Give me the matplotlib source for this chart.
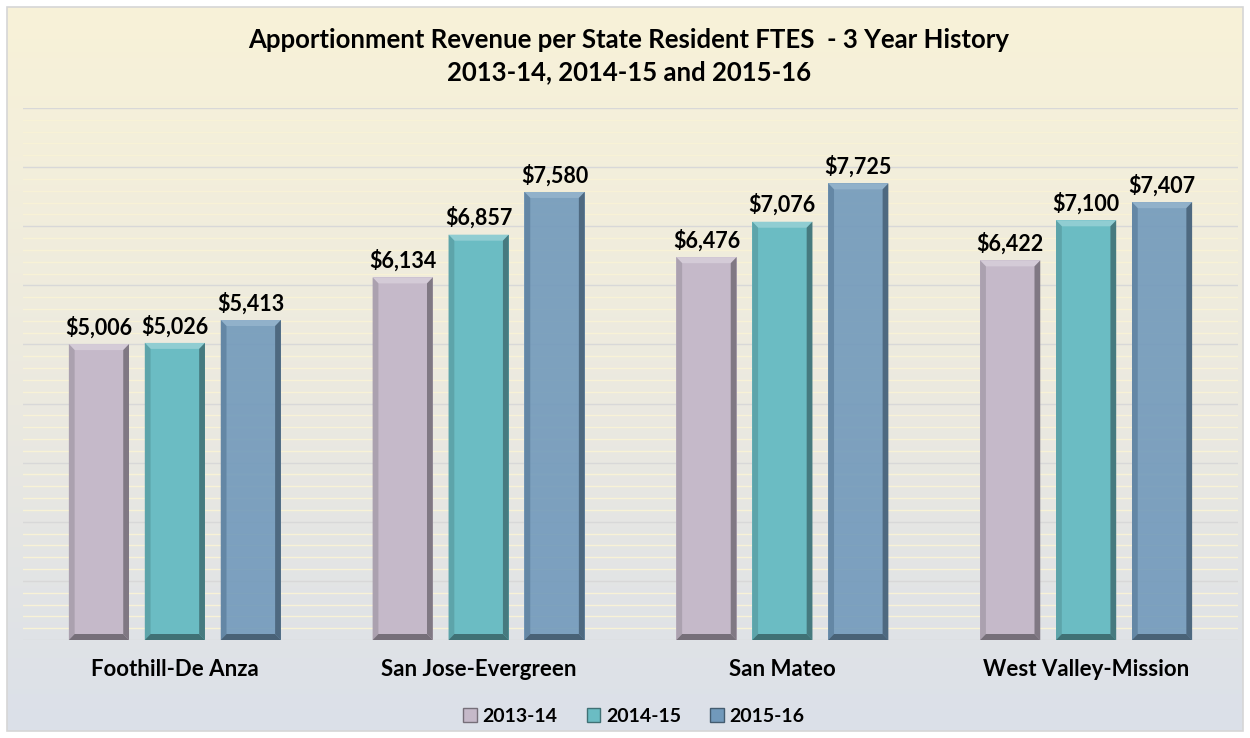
import numpy as np
import matplotlib
matplotlib.use('Agg')
import matplotlib.pyplot as plt
from matplotlib.patches import Polygon, Rectangle, Patch
from matplotlib.colors import to_rgb

plt.rcParams['font.family'] = ['Lato', 'DejaVu Sans']

categories = ['Foothill-De Anza', 'San Jose-Evergreen', 'San Mateo', 'West Valley-Mission']
years = ['2013-14', '2014-15', '2015-16']
v_1314 = [5006, 6134, 6476, 6422]
v_1415 = [5026, 6857, 7076, 7100]
v_1516 = [5413, 7580, 7725, 7407]
series = [v_1314, v_1415, v_1516]
colors = ['#c5b9c9', '#6bbcc3', '#7199bb']
alphas = [1.0, 1.0, 0.9]

W, H = 1250, 738
fig = plt.figure(figsize=(W/100, H/100), dpi=100)

# background gradient (cream -> pale blue-grey)
bg = fig.add_axes([0, 0, 1, 1], zorder=-10)
top_c = np.array(to_rgb('#f8f2d8'))
mid_c = np.array(to_rgb('#ebe9e0'))
bot_c = np.array(to_rgb('#dbe0e9'))
t = np.linspace(0, 1, 300)[:, None]
grad = np.where(t < 0.55, top_c + (mid_c - top_c) * (t / 0.55),
                mid_c + (bot_c - mid_c) * ((t - 0.55) / 0.45))
grad = np.repeat(grad[:, None, :], 2, axis=1)
bg.add_patch(Rectangle((0, 0), 1, 1, facecolor='white', zorder=-1))
bg.imshow(grad, aspect='auto', extent=[7/W, 1 - 7/W, 7/H, 1 - 7/H], origin='upper', zorder=0)
bg.add_patch(Rectangle((7/W, 7/H), 1 - 14/W, 1 - 14/H, fill=False, edgecolor='#d6d6d6', lw=1.2, zorder=1))
bg.set_xlim(0, 1); bg.set_ylim(0, 1); bg.axis('off')

ax = fig.add_axes([23/W, 1 - 640/H, (1238 - 23)/W, (640 - 108)/H])
ax.patch.set_alpha(0)
ax.set_xlim(-0.5, len(categories) - 0.5)
ax.set_ylim(0, 9000)
ax.set_yticks(np.arange(0, 9001, 1000))
ax.set_yticks(np.arange(0, 9001, 200), minor=True)
ax.grid(True, which='minor', axis='y', color='#f8f2d6', lw=1.0, zorder=0)
ax.grid(True, which='major', axis='y', color='#d8d8d8', lw=1.0, zorder=0.5)
ax.set_axisbelow(True)
for s in ax.spines.values():
    s.set_visible(False)
ax.tick_params(which='both', length=0, labelleft=False)
ax.set_xticks(range(len(categories)))
ax.set_xticklabels(categories, fontsize=16, fontweight='bold')
ax.tick_params(axis='x', pad=14)

x = np.arange(len(categories))
bw = 0.198
step = 0.25
ypx = 9000 / 532.0
bx, by = 0.019, 6 * ypx


def shade(c, f):
    c = np.array(to_rgb(c))
    return tuple(np.clip(c * f, 0, 1)) if f < 1 else tuple(c + (1 - c) * (f - 1))


for i, (vals, c, a) in enumerate(zip(series, colors, alphas)):
    bars = ax.bar(x + (i - 1) * step, vals, bw, color=c, alpha=a, zorder=2)
    for r in bars:
        x0, w, h = r.get_x(), r.get_width(), r.get_height()
        x1 = x0 + w
        faces = [
            ([(x0, h), (x1, h), (x1 - bx, h - by), (x0 + bx, h - by)], shade(c, 1.25)),
            ([(x1, h), (x1, 0), (x1 - bx, by), (x1 - bx, h - by)], shade(c, 0.65)),
            ([(x0, h), (x0, 0), (x0 + bx, by), (x0 + bx, h - by)], shade(c, 0.87)),
            ([(x0, 0), (x1, 0), (x1 - bx, by), (x0 + bx, by)], shade(c, 0.6)),
        ]
        for pts, fc in faces:
            ax.add_patch(Polygon(pts, closed=True, facecolor=fc, edgecolor='none', alpha=a, zorder=3))
        ax.annotate(f'${h:,.0f}', (x0 + w / 2, h), xytext=(0, 4), textcoords='offset points',
                    ha='center', va='bottom', fontsize=15.5, fontweight='bold', zorder=4)

fig.text(0.503, 1 - 40/H, 'Apportionment Revenue per State Resident FTES  - 3 Year History',
         ha='center', va='center', fontsize=18.5, fontweight='bold')
fig.text(0.503, 1 - 72/H, '2013-14, 2014-15 and 2015-16',
         ha='center', va='center', fontsize=18.5, fontweight='bold')

handles = [Patch(facecolor=c, edgecolor=shade(c, 0.6), lw=1.0) for c in colors]
fig.legend(handles, years, loc='center', bbox_to_anchor=(0.507, 1 - 716/H), ncol=3,
           frameon=False, prop={'size': 14, 'weight': 'bold'}, handlelength=0.7,
           handleheight=0.7, handletextpad=0.3, columnspacing=1.5)

fig.savefig('out.png', dpi=100)
